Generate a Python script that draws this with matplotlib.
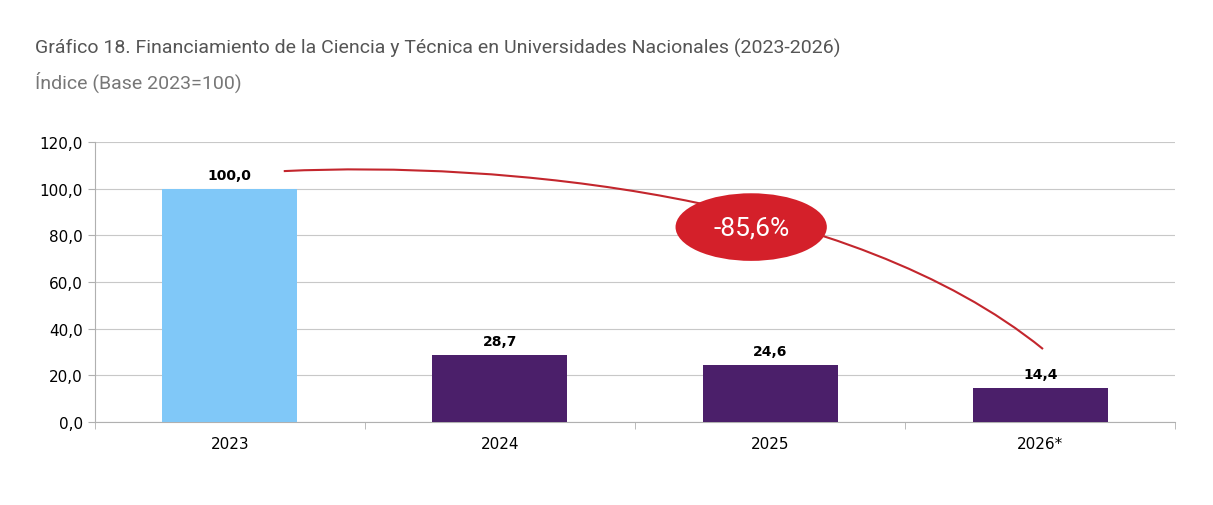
import matplotlib
matplotlib.use('Agg')
import matplotlib.pyplot as plt
from matplotlib.patches import Ellipse, PathPatch
from matplotlib.path import Path

plt.rcParams['font.family'] = ['Roboto', 'DejaVu Sans']

years = ['2023', '2024', '2025', '2026*']
values = [100.0, 28.7, 24.6, 14.4]
colors = ['#80c8f8', '#4b1f6a', '#4b1f6a', '#4b1f6a']

fig = plt.figure(figsize=(12.13, 5.06), dpi=100)
ax = fig.add_axes([0.078, 0.164, 0.891, 0.553])

x = range(len(years))
ax.bar(x, values, width=0.5, color=colors, zorder=3)
for i, v in zip(x, values):
    ax.text(i, v + 3, f'{v:.1f}'.replace('.', ','), ha='center', va='bottom',
            fontsize=10, fontweight='bold', family='DejaVu Sans')

ax.set_xlim(-0.5, 3.5)
ax.set_ylim(0, 120)
ax.set_yticks(range(0, 121, 20))
ax.set_yticklabels([f'{t:.1f}'.replace('.', ',') for t in range(0, 121, 20)],
                   fontsize=11, family='DejaVu Sans')
ax.set_xticks(list(x))
ax.set_xticklabels(years, fontsize=11, family='DejaVu Sans')
ax.set_xticks([-0.5, 0.5, 1.5, 2.5, 3.5], minor=True)
ax.tick_params(axis='x', which='major', length=0, pad=10)
ax.tick_params(axis='x', which='minor', length=5, color='#b0b0b0')
ax.tick_params(axis='y', length=5, color='#b0b0b0')
ax.grid(axis='y', color='#c8c8c8', linewidth=0.8, zorder=0)
for s in ['top', 'right']:
    ax.spines[s].set_visible(False)
for s in ['left', 'bottom']:
    ax.spines[s].set_color('#b0b0b0')

# flecha curva de la caida
verts = [(0.2, 107.6), (1.0, 112), (2.3, 98), (3.01, 31.3)]
path = Path(verts, [Path.MOVETO, Path.CURVE4, Path.CURVE4, Path.CURVE4])
ax.add_patch(PathPatch(path, facecolor='none', edgecolor='#c3262d', lw=1.5, zorder=4))
ax.add_patch(Ellipse((1.93, 83.6), 0.56, 29, facecolor='#d4202a', edgecolor='none', zorder=5))
ax.text(1.93, 83.6, '-85,6%', color='white', fontsize=19, ha='center', va='center', zorder=6)

fig.text(0.029, 0.905, 'Gráfico 18. Financiamiento de la Ciencia y Técnica en Universidades Nacionales (2023-2026)',
         fontsize=14, color='#555555', va='center')
fig.text(0.029, 0.838, 'Índice (Base 2023=100)', fontsize=14, color='#777777', va='center')

fig.savefig('out.png', dpi=100, facecolor='white')
